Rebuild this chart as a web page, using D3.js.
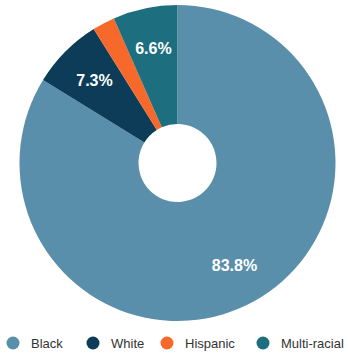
<!DOCTYPE html>
<html>
<head>
<meta charset="utf-8">
<script src="https://cdn.jsdelivr.net/npm/d3@7"></script>
<style>
  html, body { margin: 0; padding: 0; background: #fff; }
  svg { display: block; }
</style>
</head>
<body>
<svg id="chart" width="349" height="354"></svg>
<script>
// Race / ethnicity breakdown (percent)
const categories = ["Black", "White", "Hispanic", "Multi-racial"];
const values = [83.8, 7.3, 2.3, 6.6];
const labels = ["83.8%", "7.3%", "", "6.6%"];
const colors = ["#5a8fab", "#0c3c58", "#f7692b", "#1d6e7f"];

const svg = d3.select("#chart");
const cx = 177.5, cy = 163, outerR = 158, innerR = 39, labelR = 117;

const color = d3.scaleOrdinal().domain(categories).range(colors);

const pie = d3.pie().sort(null).value(d => d.value);
const data = categories.map((c, i) => ({ category: c, value: values[i], label: labels[i] }));
const arcs = pie(data);

const arc = d3.arc().innerRadius(innerR).outerRadius(outerR);
const labelArc = d3.arc().innerRadius(labelR).outerRadius(labelR);

const g = svg.append("g").attr("transform", `translate(${cx},${cy})`);

g.selectAll("path")
  .data(arcs)
  .join("path")
  .attr("d", arc)
  .attr("fill", d => color(d.data.category));

g.selectAll("text.val")
  .data(arcs.filter(d => d.data.label))
  .join("text")
  .attr("class", "val")
  .attr("transform", d => `translate(${labelArc.centroid(d)})`)
  .attr("text-anchor", "middle")
  .attr("dominant-baseline", "central")
  .attr("fill", "#ffffff")
  .attr("font-family", "'Liberation Sans', Arial, sans-serif")
  .attr("font-weight", "bold")
  .attr("font-size", 16)
  .text(d => d.data.label);

// Legend
const legendX = [13, 93, 167, 263];
const legend = svg.append("g").attr("transform", "translate(0,343)");
const item = legend.selectAll("g")
  .data(categories)
  .join("g")
  .attr("transform", (d, i) => `translate(${legendX[i]},0)`);
item.append("circle")
  .attr("r", 6.5)
  .attr("fill", d => color(d));
item.append("text")
  .attr("x", 18)
  .attr("dominant-baseline", "central")
  .attr("fill", "#333")
  .attr("font-family", "'Liberation Sans', Arial, sans-serif")
  .attr("font-size", 13)
  .text(d => d);
</script>
</body>
</html>
